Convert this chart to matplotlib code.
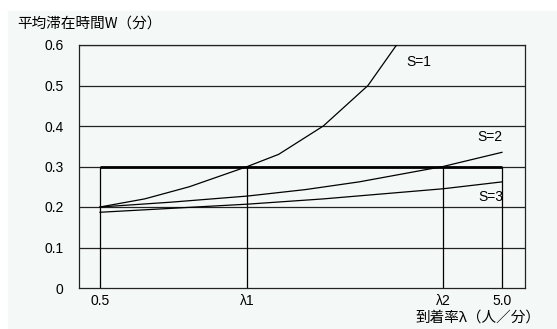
import matplotlib.pyplot as plt
from matplotlib.patches import Rectangle

plt.rcParams['font.family'] = ['Noto Sans CJK JP', 'DejaVu Sans']

# values (schematic chart, x positions in λ units)
lam1 = 2.15
lam2 = 4.34
x_ticks = [0.5, lam1, lam2, 5.0]
x_tick_labels = ['0.5', 'λ1', 'λ2', '5.0']
y_ticks = [0, 0.1, 0.2, 0.3, 0.4, 0.5, 0.6]
y_tick_labels = ['0', '0.1', '0.2', '0.3', '0.4', '0.5', '0.6']

s1_x = [0.5, 1.0, 1.5, 2.15, 2.5, 3.0, 3.5, 3.82]
s1_w = [0.20, 0.22, 0.25, 0.30, 0.33, 0.40, 0.50, 0.60]
s2_x = [0.5, 1.3, 2.15, 2.8, 3.4, 4.34, 5.0]
s2_w = [0.20, 0.212, 0.227, 0.243, 0.262, 0.30, 0.335]
s3_x = [0.5, 2.15, 3.0, 4.34, 5.0]
s3_w = [0.187, 0.207, 0.22, 0.245, 0.262]

target_w = 0.3

latin = ['Liberation Sans', 'DejaVu Sans']
bg = '#f4f8f6'
fig = plt.figure(figsize=(5.57, 3.29), dpi=100)
fig.patches.append(Rectangle((8 / 557, 0), 1, (329 - 11) / 329,
                             transform=fig.transFigure, color=bg, zorder=-10))
ax = fig.add_axes([79 / 557, 41 / 329, 446 / 557, 243 / 329])
ax.set_facecolor(bg)
ax.set_xlim(0.265, 5.258)
ax.set_ylim(0, 0.6)

lw = 0.9
for y in y_ticks[1:]:
    ax.axhline(y, color='#222222', lw=lw, zorder=1)
ax.hlines(target_w, 0.5, 5.0, color='black', lw=2.0, zorder=2)
ax.vlines(x_ticks, 0, target_w, color='black', lw=lw, zorder=2)

ax.plot(s1_x, s1_w, color='black', lw=lw, zorder=3)
ax.plot(s2_x, s2_w, color='black', lw=lw, zorder=3)
ax.plot(s3_x, s3_w, color='black', lw=lw, zorder=3)

ax.text(4.07, 0.558, 'S=1', ha='center', va='center', fontsize=10, family=latin)
ax.text(4.87, 0.373, 'S=2', ha='center', va='center', fontsize=10, family=latin)
ax.text(4.87, 0.225, 'S=3', ha='center', va='center', fontsize=10, family=latin)

ax.set_xticks(x_ticks)
ax.set_xticklabels(x_tick_labels, fontsize=10, family=latin)
ax.set_yticks(y_ticks)
ax.set_yticklabels(y_tick_labels, fontsize=10, family=latin)
ax.tick_params(length=0)
ax.tick_params(axis='y', pad=11)
ax.tick_params(axis='x', pad=4)
for sp in ax.spines.values():
    sp.set_color('#222222')
    sp.set_linewidth(lw)

fig.text(17 / 557, 1 - 24 / 329, '平均滞在時間W（分）', ha='left', va='center',
         fontsize=10.5)
fig.text(478 / 557, 1 - 318 / 329, '到着率λ（人／分）', ha='center', va='center',
         fontsize=10.5)

fig.savefig('out.png', dpi=100, facecolor='white')
